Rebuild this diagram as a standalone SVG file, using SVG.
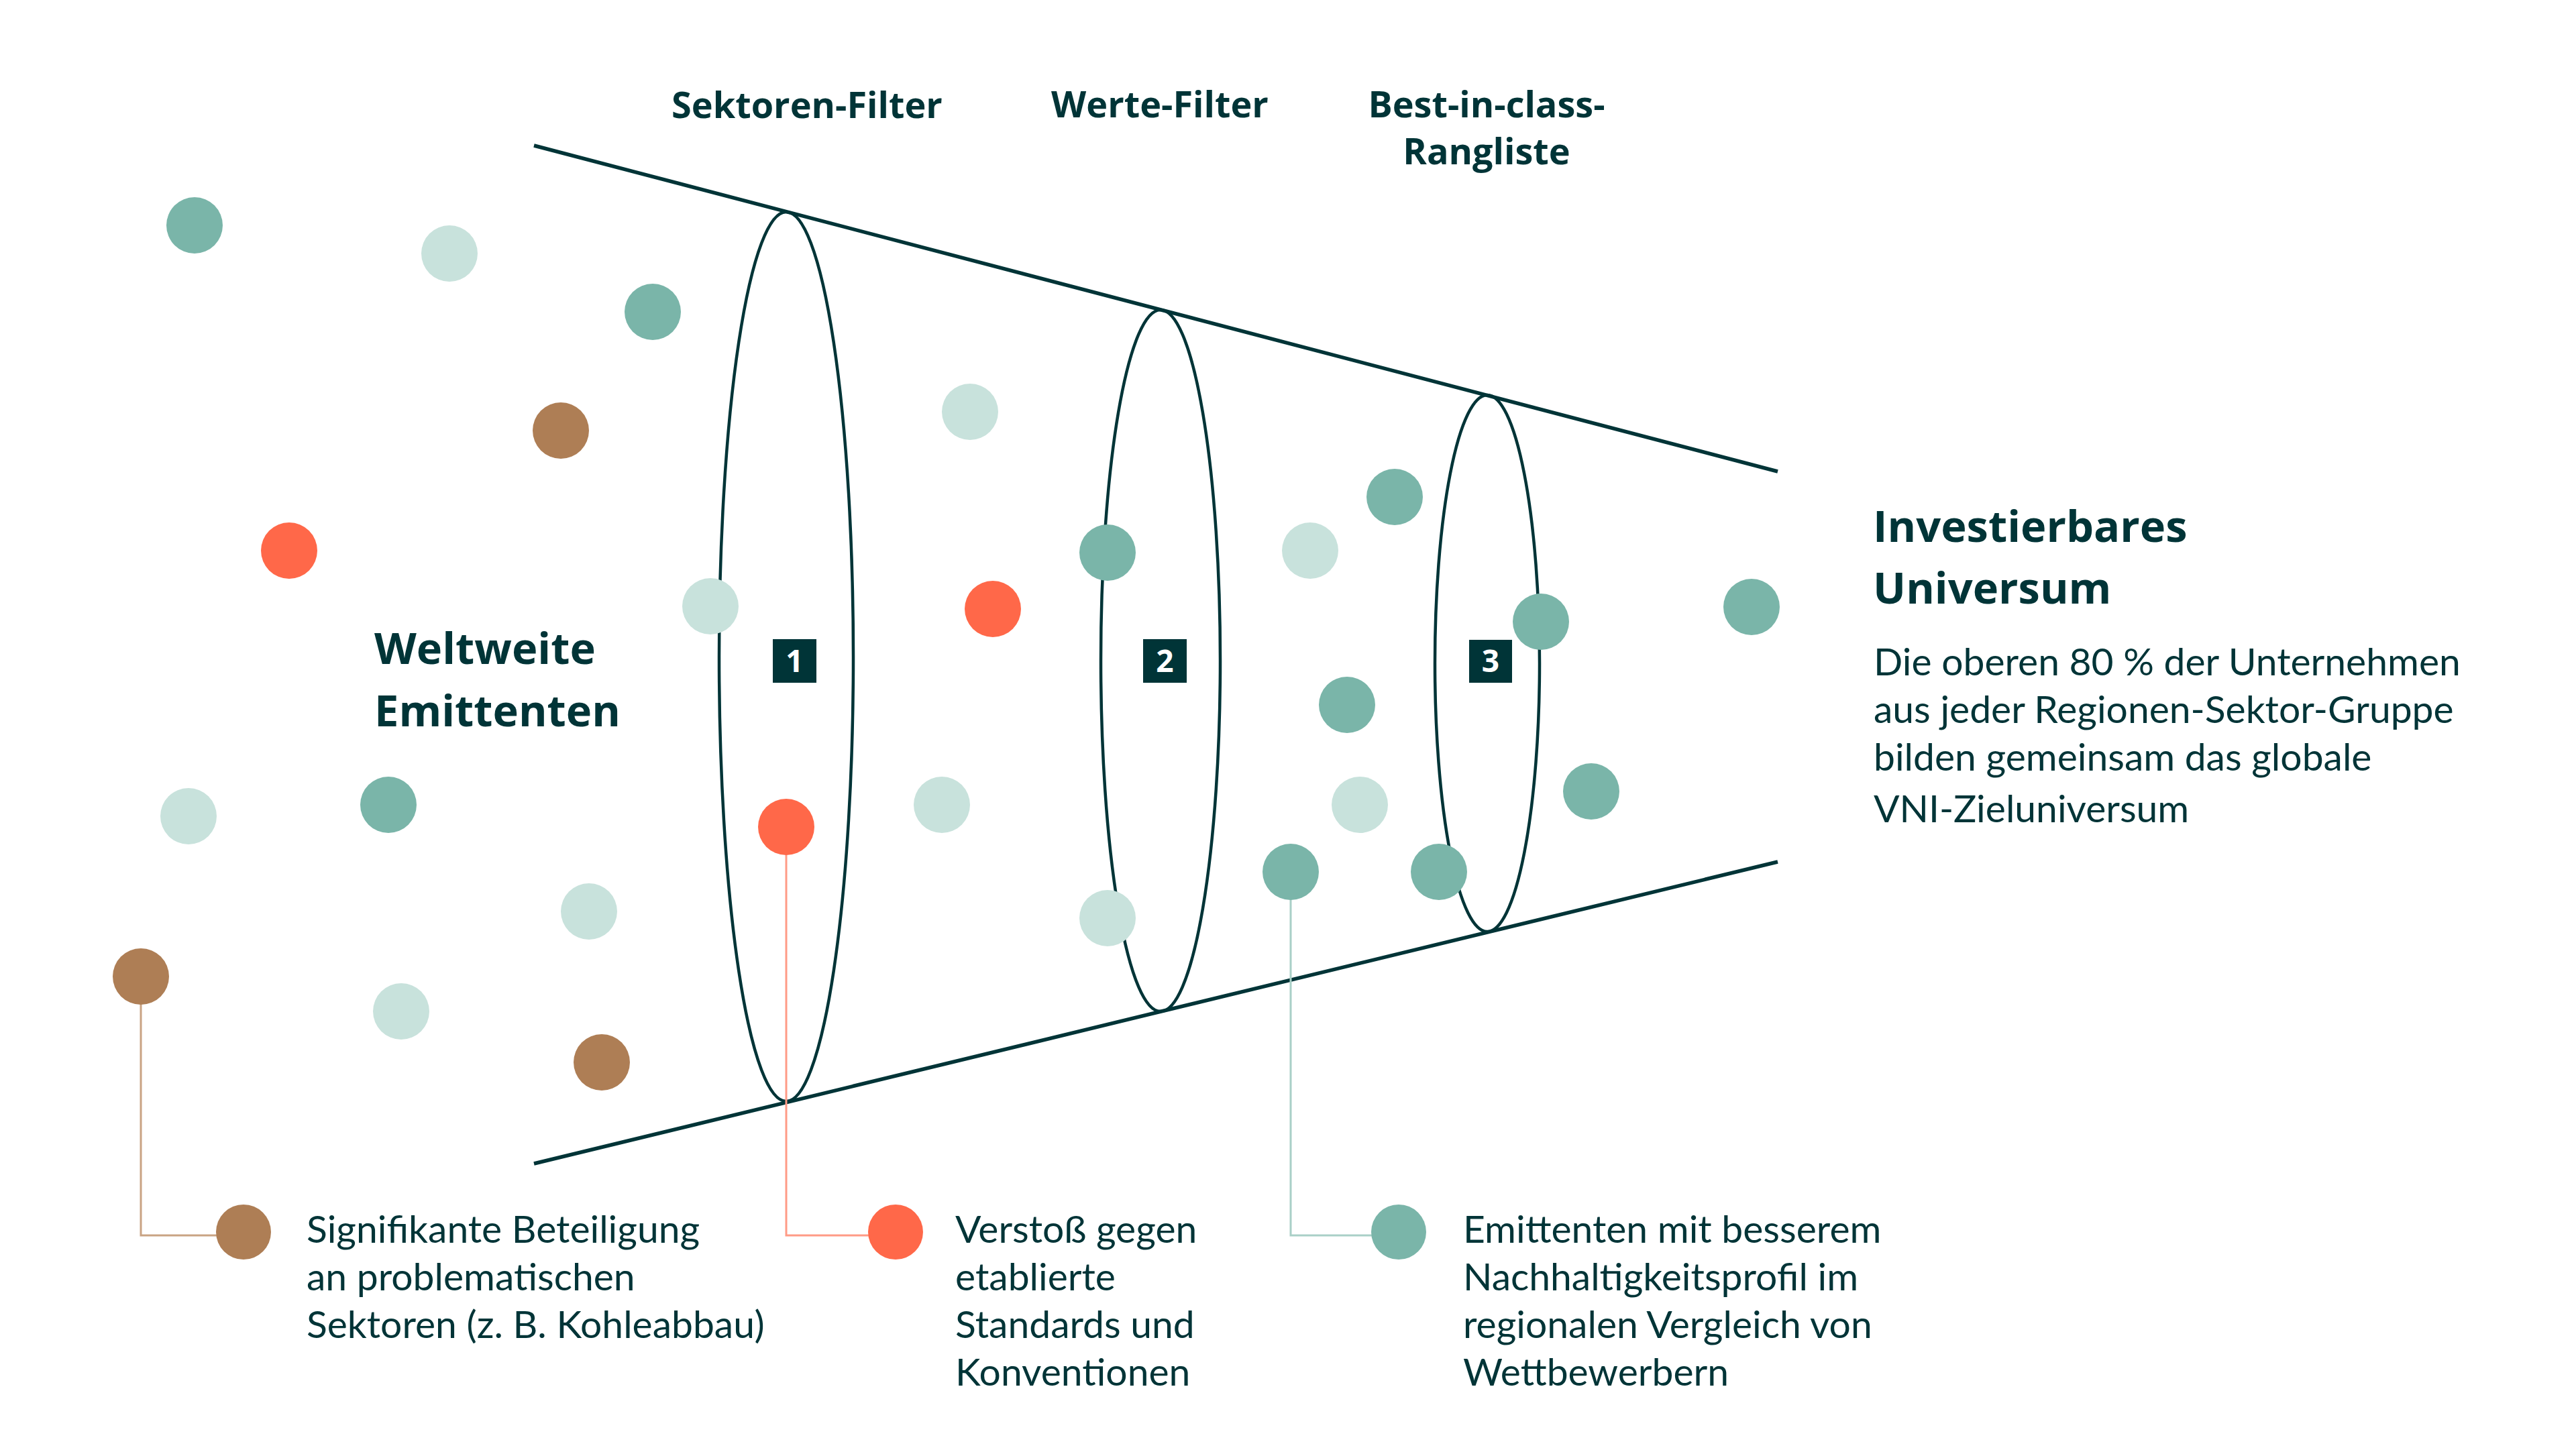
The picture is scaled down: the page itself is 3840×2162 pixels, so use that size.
<svg xmlns="http://www.w3.org/2000/svg" width="3840" height="2162" viewBox="0 0 3840 2162">
<style>
.h{font-family:"Open Sans","Liberation Sans",sans-serif;font-weight:700;fill:#003437}
.b{font-family:Lato,"Liberation Sans",sans-serif;font-weight:400;fill:#003437;font-size:57px}
.fl{font-size:54px;text-anchor:middle}
.big{font-size:65px}
.edge{fill:none;stroke:#003437;stroke-width:5.5}
.ring{fill:none;stroke:#003437;stroke-width:4.5}
.box{fill:#003437}
.num{font-family:"Open Sans","Liberation Sans",sans-serif;font-weight:700;font-size:46px;fill:#ffffff;text-anchor:middle}
.t{fill:#7ab5a9}
.l{fill:#c8e2dc}
.br{fill:#ae7e55}
.o{fill:#ff6849}
.lead{fill:none;stroke-width:3}
</style>
<rect width="3840" height="2162" fill="#ffffff"/>
<g id="funnel">
<line class="edge" x1="796" y1="217" x2="2650" y2="703"/>
<line class="edge" x1="796" y1="1735" x2="2650" y2="1285"/>
</g>
<g id="filter-1">
<ellipse class="ring" cx="1172" cy="979" rx="100" ry="663"/>
<rect class="box" x="1152" y="953" width="65" height="65"/>
<text class="num" x="1184.5" y="1002">1</text>
<text class="h fl" x="1203" y="176">Sektoren-Filter</text>
</g>
<g id="filter-2">
<ellipse class="ring" cx="1730" cy="985" rx="89" ry="523"/>
<rect class="box" x="1704" y="953" width="65" height="65"/>
<text class="num" x="1736.5" y="1002">2</text>
<text class="h fl" x="1729" y="175">Werte-Filter</text>
</g>
<g id="filter-3">
<ellipse class="ring" cx="2217" cy="989" rx="78" ry="400"/>
<rect class="box" x="2190" y="954" width="64" height="64"/>
<text class="num" x="2222" y="1002">3</text>
<text class="h fl" x="2216" y="175">Best-in-class-</text>
<text class="h fl" x="2216" y="245">Rangliste</text>
</g>
<g id="connectors">
<polyline class="lead" stroke="#c9a383" points="210,1456 210,1842 363,1842"/>
<polyline class="lead" stroke="#ff9b86" points="1172,1233 1172,1842 1335,1842"/>
<polyline class="lead" stroke="#a9d0c7" points="1924,1300 1924,1842 2085,1842"/>
</g>
<g id="dots">
<circle class="t" cx="290" cy="336" r="42"/>
<circle class="l" cx="670" cy="378" r="42"/>
<circle class="t" cx="973" cy="465" r="42"/>
<circle class="br" cx="836" cy="642" r="42"/>
<circle class="o" cx="431" cy="821" r="42"/>
<circle class="l" cx="1059" cy="904" r="42"/>
<circle class="l" cx="1446" cy="614" r="42"/>
<circle class="o" cx="1480" cy="908" r="42"/>
<circle class="t" cx="1651" cy="824" r="42"/>
<circle class="l" cx="1953" cy="821" r="42"/>
<circle class="t" cx="2079" cy="741" r="42"/>
<circle class="t" cx="2297" cy="927" r="42"/>
<circle class="t" cx="2611" cy="905" r="42"/>
<circle class="l" cx="281" cy="1217" r="42"/>
<circle class="t" cx="579" cy="1200" r="42"/>
<circle class="l" cx="878" cy="1359" r="42"/>
<circle class="o" cx="1172" cy="1233" r="42"/>
<circle class="l" cx="1404" cy="1200" r="42"/>
<circle class="l" cx="1651" cy="1369" r="42"/>
<circle class="t" cx="2008" cy="1051" r="42"/>
<circle class="l" cx="2027" cy="1200" r="42"/>
<circle class="t" cx="1924" cy="1300" r="42"/>
<circle class="t" cx="2145" cy="1300" r="42"/>
<circle class="t" cx="2372" cy="1180" r="42"/>
<circle class="br" cx="210" cy="1456" r="42"/>
<circle class="l" cx="598" cy="1508" r="42"/>
<circle class="br" cx="897" cy="1584" r="42"/>
</g>
<g id="label-weltweite">
<text class="h big" x="558" y="990">Weltweite</text>
<text class="h big" x="558" y="1083">Emittenten</text>
</g>
<g id="label-universum">
<text class="h big" x="2792" y="808">Investierbares</text>
<text class="h big" x="2792" y="900">Universum</text>
<text class="b" x="2793" y="1007">Die oberen 80 % der Unternehmen</text>
<text class="b" x="2793" y="1078">aus jeder Regionen-Sektor-Gruppe</text>
<text class="b" x="2793" y="1149">bilden gemeinsam das globale</text>
<text class="b" x="2793" y="1226">VNI-Zieluniversum</text>
</g>
<g id="legend-1">
<circle class="br" cx="363" cy="1837" r="41"/>
<text class="b" x="457" y="1853">Signifikante Beteiligung</text>
<text class="b" x="457" y="1924">an problematischen</text>
<text class="b" x="457" y="1995">Sektoren (z. B. Kohleabbau)</text>
</g>
<g id="legend-2">
<circle class="o" cx="1335" cy="1837" r="41"/>
<text class="b" x="1424" y="1853">Verstoß gegen</text>
<text class="b" x="1424" y="1924">etablierte</text>
<text class="b" x="1424" y="1995">Standards und</text>
<text class="b" x="1424" y="2066">Konventionen</text>
</g>
<g id="legend-3">
<circle class="t" cx="2085" cy="1837" r="41"/>
<text class="b" x="2181" y="1853">Emittenten mit besserem</text>
<text class="b" x="2181" y="1924">Nachhaltigkeitsprofil im</text>
<text class="b" x="2181" y="1995">regionalen Vergleich von</text>
<text class="b" x="2181" y="2066">Wettbewerbern</text>
</g>
</svg>
